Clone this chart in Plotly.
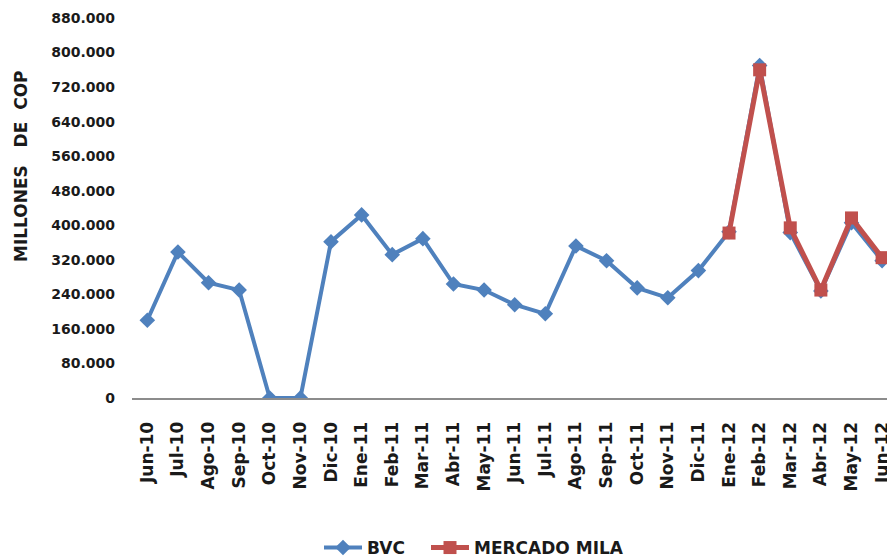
import plotly.graph_objects as go

categories = ["Jun-10", "Jul-10", "Ago-10", "Sep-10", "Oct-10", "Nov-10", "Dic-10",
              "Ene-11", "Feb-11", "Mar-11", "Abr-11", "May-11", "Jun-11", "Jul-11",
              "Ago-11", "Sep-11", "Oct-11", "Nov-11", "Dic-11", "Ene-12", "Feb-12",
              "Mar-12", "Abr-12", "May-12", "Jun-12"]

bvc = [180000, 338000, 267000, 250000, 0, 0, 362000,
       424000, 332000, 369000, 264000, 250000, 216000, 195000,
       352000, 318000, 255000, 232000, 295000, 385000, 770000,
       383000, 248000, 406000, 318000]

mila_categories = ["Ene-12", "Feb-12", "Mar-12", "Abr-12", "May-12", "Jun-12"]
mila = [382000, 760000, 394000, 250000, 417000, 325000]

y_tickvals = [0, 80000, 160000, 240000, 320000, 400000, 480000, 560000,
              640000, 720000, 800000, 880000]
y_ticktext = ["0", "80.000", "160.000", "240.000", "320.000", "400.000", "480.000",
              "560.000", "640.000", "720.000", "800.000", "880.000"]

BLUE = "#4F81BD"
RED = "#C0504D"
TXT = "#1a1a1a"

fig = go.Figure()
fig.add_trace(go.Scatter(
    x=categories, y=bvc, name="BVC", mode="lines+markers",
    line=dict(color=BLUE, width=4),
    marker=dict(symbol="diamond", size=12, color=BLUE),
    legend="legend",
))
fig.add_trace(go.Scatter(
    x=mila_categories, y=mila, name="MERCADO MILA", mode="lines+markers",
    line=dict(color=RED, width=5),
    marker=dict(symbol="square", size=13, color=RED),
    legend="legend2",
))

legend_font = dict(family="DejaVu Sans", size=17, color=TXT, weight="bold")
leg_y = (398 - 548) / 380

fig.update_layout(
    width=887, height=560,
    margin=dict(l=132, r=0, t=18, b=162, autoexpand=False),
    paper_bgcolor="white", plot_bgcolor="white",
    showlegend=True,
    legend=dict(orientation="h", x=(319 - 132) / 755, xanchor="left",
                y=leg_y, yanchor="middle", font=legend_font, itemwidth=38),
    legend2=dict(orientation="h", x=(426 - 132) / 755, xanchor="left",
                 y=leg_y, yanchor="middle", font=legend_font, itemwidth=38),
    xaxis=dict(
        type="category", categoryorder="array", categoryarray=categories,
        range=[-0.5, 24.16], automargin=False,
        showgrid=False, zeroline=False,
        showline=True, linecolor="#8c8c8c", linewidth=2,
        tickangle=-90, ticks="", ticklabelstandoff=15,
        tickfont=dict(family="DejaVu Sans", size=17, color=TXT, weight="bold"),
    ),
    yaxis=dict(
        range=[0, 880000], automargin=False,
        showgrid=False, zeroline=False, showline=False,
        tickvals=y_tickvals, ticktext=y_ticktext, ticks="",
        ticklabelstandoff=16,
        tickfont=dict(family="DejaVu Sans", size=14, color=TXT, weight="bold"),
    ),
    annotations=[dict(
        text="MILLONES\u00a0\u00a0\u00a0DE\u00a0\u00a0COP", textangle=-90,
        xref="paper", yref="paper", x=(21 - 132) / 755, y=(398 - 166) / 380,
        xanchor="center", yanchor="middle", showarrow=False,
        font=dict(family="DejaVu Sans", size=17, color=TXT, weight="bold"),
    )],
)

fig.write_html(
    "out.html",
    config={"displayModeBar": False},
    post_script="document.body.style.margin='0';document.body.style.overflow='hidden';",
)
